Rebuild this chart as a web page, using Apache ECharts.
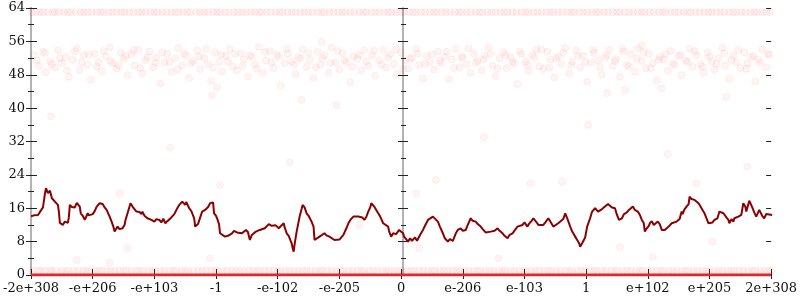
<!DOCTYPE html>
<html><head><meta charset="utf-8">
<script src="https://cdn.jsdelivr.net/npm/echarts@6/dist/echarts.min.js"></script>
<style>html,body{margin:0;padding:0;background:#fff}#c{width:800px;height:300px}</style>
</head><body><div id="c"></div>
<script>
// x axis: 12 equal steps (62 units each) labelled as below
var xLabels = ['-2e+308','-e+206','-e+103','-1','-e-102','-e-205','0','e-206','e-103','1','e+102','e+205','2e+308'];

// running line (x in axis units, y value)
var lineX = [0,3,5,7,10,12,14,15,16,17,19,21,22,24,27,28,29,31,32,34,35,37,38,39,41,43,44,46,47,48,49,50,52,54,55,57,58,60,62,64,66,69,71,72,74,76,79,81,83,84,86,87,89,92,94,95,97,100,102,104,106,107,109,111,112,114,117,119,121,124,126,129,131,133,135,137,139,141,142,144,147,149,152,153,155,156,159,161,164,165,166,168,170,
172,175,178,180,181,183,184,186,187,189,190,192,195,198,200,202,204,205,207,209,212,214,216,218,220,222,224,226,228,230,232,235,237,239,240,242,244,246,249,251,254,255,257,259,260,262,263,264,265,267,268,270,272,273,275,277,279,282,284,285,287,290,292,295,297,300,302,305,307,310,312,314,317,319,321,324,326,329,331,333,335,337,339,341,342,344,345,347,349,351,354,356,359,360,362,364,365,367,370,
372,374,375,377,379,381,383,384,386,388,389,391,394,396,399,401,404,406,409,411,414,416,419,421,422,424,427,429,432,434,437,439,442,444,447,449,452,454,457,459,462,464,466,469,471,474,476,479,481,484,486,489,491,494,496,499,501,503,505,507,510,512,515,517,520,522,525,527,530,532,535,537,539,542,544,547,549,551,552,554,555,557,559,562,564,566,567,569,570,
572,574,577,579,580,582,584,587,589,591,592,594,596,597,599,601,603,605,607,609,610,612,614,616,617,619,621,622,624,626,628,630,632,634,636,637,639,641,643,644,646,649,652,654,655,657,659,661,662,664,666,667,669,671,673,675,677,679,681,683,685,687,689,690,692,694,696,697,699,701,702,704,706,707,709,711,713,714,716,718,719,721,722,724,725,727,729,730,732,733,735,737,739,740,745];
var lineY = [14.1,14.3,13.9,14.4,15.5,16.2,19.5,20.8,20.5,19.6,20.2,18.4,18.8,17.6,16.8,15.2,12.5,12.3,12,12.8,13.2,12.5,13.8,16.8,16.3,16.6,16.2,17.3,17,17.6,16.4,14.8,14.2,13.2,13.6,14.8,14.3,14,14.6,15.3,16.4,17.2,16.9,17,16.2,15.6,14,12.8,11.4,10.4,10.8,11.6,11,11.2,12,13.2,14.8,17.2,16.4,16,15.2,14.8,15.1,14.6,15.2,14.2,13.6,13.9,13.2,12.8,13.4,13.2,12.6,13.5,12.4,12.9,13.2,13.8,14,14.6,16,16.8,17.6,17.3,16.8,17.5,16,15.4,13.6,11.6,11.9,12.3,12.4,
15.2,15.6,16.3,17.2,16.8,17.4,14.8,14.2,13.6,12.2,10,9.6,9.2,9.4,9.8,10,10.6,10.8,10.2,10.5,10,10.4,10.8,10.3,8.4,9.6,10,10.4,10.2,10.8,10.5,11.2,11.5,12.2,12.4,11.8,11.6,11.9,11.2,11.6,12.4,11.4,10,9.4,8.8,7.6,6.4,5.6,7.4,10.4,11.6,14,15.8,16.8,16.2,14.8,14.2,12.8,11.6,8.4,8.8,9.2,9.6,10,9.5,9.2,9.6,8.4,8.6,8.5,8.8,9.6,11.2,12.4,13.2,14,13.6,14,14.4,13.8,13.2,13.9,15.2,16.2,17.2,17,16.4,15.6,14.8,14,12.4,12.2,11.6,10.4,9.2,10,10.4,9.8,10.8,
10.8,10,9.2,9.6,8,8.8,8.2,8.4,9,8.2,8,9.6,10.8,11.8,13.2,13.6,14,13.6,12.8,11.6,10,8.8,8,8.6,8.4,8.2,10,10.8,11.2,10.6,10.8,12,13.6,13,12.8,12.2,11.6,11,10.2,10.6,10.4,10.8,10.6,11.2,10.6,10,9.4,8.8,9.6,10,10.4,11.6,11.4,12,12.6,11.6,12.4,12.9,13.6,13,12,12.4,12,12.6,13.6,12.8,11.6,12,12.4,12.2,13.4,14.8,13.6,11.6,10.4,9.2,8.4,7.6,6.8,7.6,7.2,9,11.6,13.6,15.2,15.6,16,15.6,15.2,
15.2,15.8,16.4,16.1,17,16.8,16.2,16,14.4,13.2,12.8,13.6,14.6,14.4,15,15.6,16,16.4,15.6,15.4,15.2,14.4,13.2,12.4,10.4,11.2,11.8,12.4,12.9,12,12.4,12.8,12.2,10.8,11.2,10.8,11.2,11.6,12,12.4,12.6,12.8,13.4,15.2,14.6,15.8,16.4,17,18.8,18.2,18.4,18,17.6,17.2,16.4,15.6,14.8,13.6,12.4,12.8,12.6,13.2,12.8,13.6,15.2,15.4,14.8,14.4,13.8,13.2,12.4,13.4,12.8,13.6,13.2,14,13.6,14.4,17.2,16.4,15.2,15.6,17.8,18,16.2,15,14,14.4,15.6,15.2,14.2,13.6,14.6,14.4,14.4];

// dense row of points near the top (value 63)
var topY = 63;
var topX = [1,5,9,12,17,22,24,28,33,37,40,45,50,53,57,61,66,70,73,78,82,86,91,94,99,103,108,111,115,120,124,127,132,136,141,145,148,153,157,160,166,170,174,178,183,187,190,195,199,204,208,212,216,221,225,229,232,237,241,246,250,253,258,262,266,271,275,279,283,288,292,295,300,304,309,313,316,321,325,330,334,337,342,346,350,355,359,362,367,371,375,380,384,387,392,396,401,405,408,413,417,421,426,430,433,438,442,447,451,454,459,463,467,472,476,479,484,488,493,497,500,505,509,513,518,522,525,530,534,539,543,546,551,555,559,564,568,571,576,580,585,589,592,597,601,605,610,614,617,622,626,631,635,638,643,647,651,656,660,663,668,672,677,681,684,689,693,697,702,706,709,714,718,723,727,730,735,739,743];

// row of points just above zero (value about 1)
var lowY = 1;
var lowX = [2,7,10,14,19,21,26,31,35,38,43,47,52,55,59,64,68,71,76,80,84,89,93,96,101,106,109,113,118,122,125,130,134,139,143,146,151,155,158,163,168,172,176,181,185,188,193,197,202,206,210,214,219,223,227,230,235,239,244,248,251,256,260,264,269,273,277,281,286,290,293,298,302,307,311,314,319,323,328,332,335,340,344,348,353,357,360,365,369,373,378,382,385,390,394,399,403,406,411,415,419,424,428,431,436,440,445,449,452,457,461,465,470,474,477,482,486,491,495,498,503,507,511,516,520,523,528,532,537,541,544,549,553,557,562,566,569,574,578,583,587,590,595,599,603,608,612,615,620,624,629,633,636,641,645,649,654,658,661,666,670,675,679,682,687,691,695,700,704,707,712,716,721,725,728,733,737,741,744];

// the many points sitting exactly on zero (span of the packed row)
var zeroX = [0,744];

// cloud of points between about 45 and 55
var midPts = [[3,52.8],[8,50.1],[12,53.5],[15,48.6],[19,51.2],[24,49.7],[27,53.9],[31,50.8],[35,52.2],[38,47.5],[42,51.6],[46,54.3],[49,49.2],[53,52.7],[57,50.4],[60,46.8],[64,53.1],[68,51.0],[71,48.9],[75,52.4],[79,54.6],[82,50.7],[86,49.5],[90,53.3],[93,51.8],[97,47.9],[101,52.9],[104,50.2],[108,54.0],[112,48.3],[115,51.5],[119,53.6],[123,49.8],[126,52.1],[130,45.9],[134,50.9],[137,53.0],[141,48.7],[145,51.9],[148,54.4],[152,50.3],[156,52.6],[159,47.2],[163,51.3],[167,53.8],[170,49.4],[174,52.0],[178,50.6],[181,46.5],[185,53.4],[189,51.1],[192,48.8],[196,52.5],[200,54.2],[203,50.0],[207,49.1],[211,53.2],[214,51.7],[218,47.6],[222,52.3],[225,50.5],[229,54.7],[233,48.4],[236,51.4],[240,53.7],[244,49.6],[247,52.8],[251,45.4],[255,50.8],[258,53.0],[262,51.2],[266,48.1],[269,52.2],[273,54.1],[277,49.9],[280,51.6],[284,47.3],[288,53.5],[291,50.4],[295,52.7],[299,48.6],[302,54.5],[306,51.0],[310,49.3],[313,53.2],[317,50.9],[321,46.2],[324,52.4],[328,51.8],[332,49.0],[335,53.9],[339,50.1],[343,52.6],[346,47.8],[350,51.5],[354,54.0],[357,49.7],[361,52.9],[365,50.6],[368,48.2],[372,53.3],[376,51.4],[379,49.5],[383,52.1],[387,54.3],[390,50.3],[394,47.1],[398,52.5],[401,51.0],[405,49.2],[409,53.6],[412,50.8],[416,52.3],[420,46.9],[423,51.7],[427,54.2],[431,49.8],[434,52.0],[438,50.5],[442,48.5],[445,53.1],[449,51.3],[453,49.1],[456,52.7],[460,54.6],[464,50.2],[467,47.7],[471,51.9],[475,53.4],[478,49.6],[482,52.2],[486,50.7],[489,45.8],[493,53.0],[497,51.1],[500,48.9],[504,52.8],[508,54.1],[511,50.0],[515,49.4],[519,53.5],[522,51.6],[526,47.4],[530,52.4],[533,50.6],[537,54.4],[541,48.3],[544,51.2],[548,53.8],[552,49.7],[555,52.6],[559,46.3],[563,50.9],[566,53.2],[570,51.5],[574,48.0],[577,52.1],[581,54.0],[585,50.1],[588,51.8],[592,47.5],[596,53.6],[599,50.3],[603,52.9],[607,48.7],[610,54.3],[614,51.3],[618,49.5],[621,53.1],[625,50.8],[629,46.6],[632,52.3],[636,51.7],[640,49.0],[643,53.7],[647,50.4],[651,52.5],[654,47.9],[658,51.4],[662,54.2],[665,49.9],[669,52.7],[673,50.5],[676,48.4],[680,53.3],[684,51.2],[687,49.3],[691,52.0],[695,54.5],[698,50.2],[702,47.0],[706,52.6],[709,51.0],[713,49.6],[717,53.4],[720,50.7],[724,52.2],[728,46.4],[731,51.6],[735,54.1],[739,49.8],[742,52.8]];
var midPts2 = [[6,51.4],[14,53.2],[21,50.6],[29,52.0],[36,49.0],[44,53.6],[51,51.0],[58,52.9],[66,49.9],[73,53.7],[80,51.3],[88,50.2],[95,52.5],[103,53.9],[110,49.6],[117,52.2],[125,50.9],[132,53.4],[139,51.1],[147,49.3],[154,53.1],[161,50.7],[169,52.4],[176,54.1],[183,49.7],[191,52.8],[198,51.2],[205,53.0],[213,50.1],[220,52.6],[227,49.5],[235,53.5],[242,51.0],[249,52.3],[257,54.2],[264,50.4],[271,51.9],[279,53.3],[286,49.8],[293,52.0],[301,50.8],[308,53.7],[315,51.5],[323,49.9],[330,52.7],[337,51.2],[345,53.8],[352,50.5],[359,52.1],[367,54.0],[374,49.4],[381,51.8],[389,53.1],[396,50.6],[403,52.9],[411,51.4],[418,53.5],[425,49.6],[433,52.4],[440,54.3],[447,50.9],[455,51.7],[462,53.0],[469,49.5],[477,52.6],[484,51.1],[491,53.6],[499,50.4],[506,52.2],[513,54.0],[521,49.7],[528,51.9],[535,53.3],[543,50.3],[550,52.5],[557,51.0],[565,53.9],[572,49.8],[579,52.7],[587,51.3],[594,54.2],[601,50.0],[609,52.0],[616,53.4],[623,49.6],[631,51.6],[638,53.0],[645,50.7],[653,52.8],[660,51.1],[667,53.7],[675,49.9],[682,52.3],[689,50.6],[697,53.2],[704,51.5],[711,54.0],[719,49.4],[726,52.5],[733,50.9],[741,53.1]];

// scattered stray points
var strayPts = [[89,19.6],[97,6.5],[46,3.6],[79,2.9],[190,21.6],[180,4],[387,19.6],[407,22.8],[502,22],[534,22.4],[470,4],[390,6.5],[669,22],[685,8],[625,4.3],[592,6.7],[292,55.9],[307,40.7],[272,42],[182,43],[187,45],[614,55],[579,43.6],[597,44.3],[634,44.8],[699,42.7],[140,30.5],[260,27],[455,33],[560,36],[330,12],[640,29],[20,38],[720,26]];

var FONT = 'DejaVu Serif';
var AX = '#b3b3b3', TK = '#222';
var chart = echarts.init(document.getElementById('c'), null, {renderer:'canvas'});

function pairs(xs, y) { return xs.map(function(x){ return [x, y]; }); }
function zip(xs, ys) { return xs.map(function(x, i){ return [x, ys[i]]; }); }

var yBase = {type:'value', min:0, max:64, interval:8, splitLine:{show:false}, axisLabel:{show:false}};
function yAx(extra){ return Object.assign({}, yBase, extra); }
var dotStyle = {color:'rgba(255,0,0,0.055)', borderColor:'rgba(255,0,0,0.07)', borderWidth:1};

var option = {
  animation:false,
  grid:{left:28, right:27, top:8, bottom:25},
  xAxis:[
    {type:'value', position:'bottom', min:0, max:744, interval:62, splitLine:{show:false},
     axisLine:{show:false},
     axisTick:{show:true, inside:false, length:4, lineStyle:{color:TK, width:1}},
     axisLabel:{show:true, margin:7, color:'#111', fontFamily:FONT, fontSize:13,
       formatter:function(v){ return xLabels[Math.round(v/62)]; }}},
    {type:'value', position:'bottom', min:0, max:744, interval:62, splitLine:{show:false},
     axisLine:{show:false}, axisLabel:{show:false},
     axisTick:{show:true, inside:true, length:6, lineStyle:{color:TK, width:1}}},
    {type:'value', position:'top', min:0, max:744, interval:62, splitLine:{show:false},
     axisLine:{show:true, lineStyle:{color:AX, width:2}}, axisLabel:{show:false}, axisTick:{show:false}}
  ],
  yAxis:[
    yAx({position:'left', axisLine:{show:true, lineStyle:{color:AX, width:2}},
      axisTick:{show:true, length:5, lineStyle:{color:TK}},
      minorTick:{show:true, splitNumber:2, length:3, lineStyle:{color:TK}},
      axisLabel:{show:true, margin:6, color:'#111', fontFamily:FONT, fontSize:13}}),
    yAx({position:'left', axisLine:{show:false},
      axisTick:{show:true, inside:true, length:2, lineStyle:{color:TK}}}),
    yAx({position:'right', axisLine:{show:true, lineStyle:{color:AX, width:2}},
      axisTick:{show:true, length:6, lineStyle:{color:TK}},
      minorTick:{show:true, splitNumber:2, length:3, lineStyle:{color:TK}}}),
    yAx({position:'right', axisLine:{show:false},
      axisTick:{show:true, inside:true, length:5, lineStyle:{color:TK}}}),
    yAx({position:'left', offset:-372, axisLine:{show:true, lineStyle:{color:AX, width:2}},
      axisTick:{show:true, inside:true, length:5, lineStyle:{color:TK}},
      minorTick:{show:true, splitNumber:2, length:3, lineStyle:{color:TK}}}),
    yAx({position:'left', offset:-372, axisLine:{show:false},
      axisTick:{show:true, inside:false, length:5, lineStyle:{color:TK}},
      minorTick:{show:true, splitNumber:2, length:2, lineStyle:{color:TK}}})
  ],
  series:[
    {type:'scatter', silent:true, symbolSize:7, data:midPts.concat(midPts2, strayPts), itemStyle:dotStyle},
    {type:'scatter', silent:true, symbolSize:7, data:pairs(topX, topY), itemStyle:dotStyle},
    {type:'scatter', silent:true, symbolSize:7, data:pairs(lowX, lowY), itemStyle:dotStyle},
    {type:'line', silent:true, showSymbol:false, clip:true, data:pairs(zeroX, 0),
     lineStyle:{color:'#e3262b', width:3}, z:3},
    {type:'line', silent:true, showSymbol:false, clip:true, data:zip(lineX, lineY),
     lineStyle:{color:'#8b0000', width:2}, z:4}
  ]
};
chart.setOption(option);
</script></body></html>
